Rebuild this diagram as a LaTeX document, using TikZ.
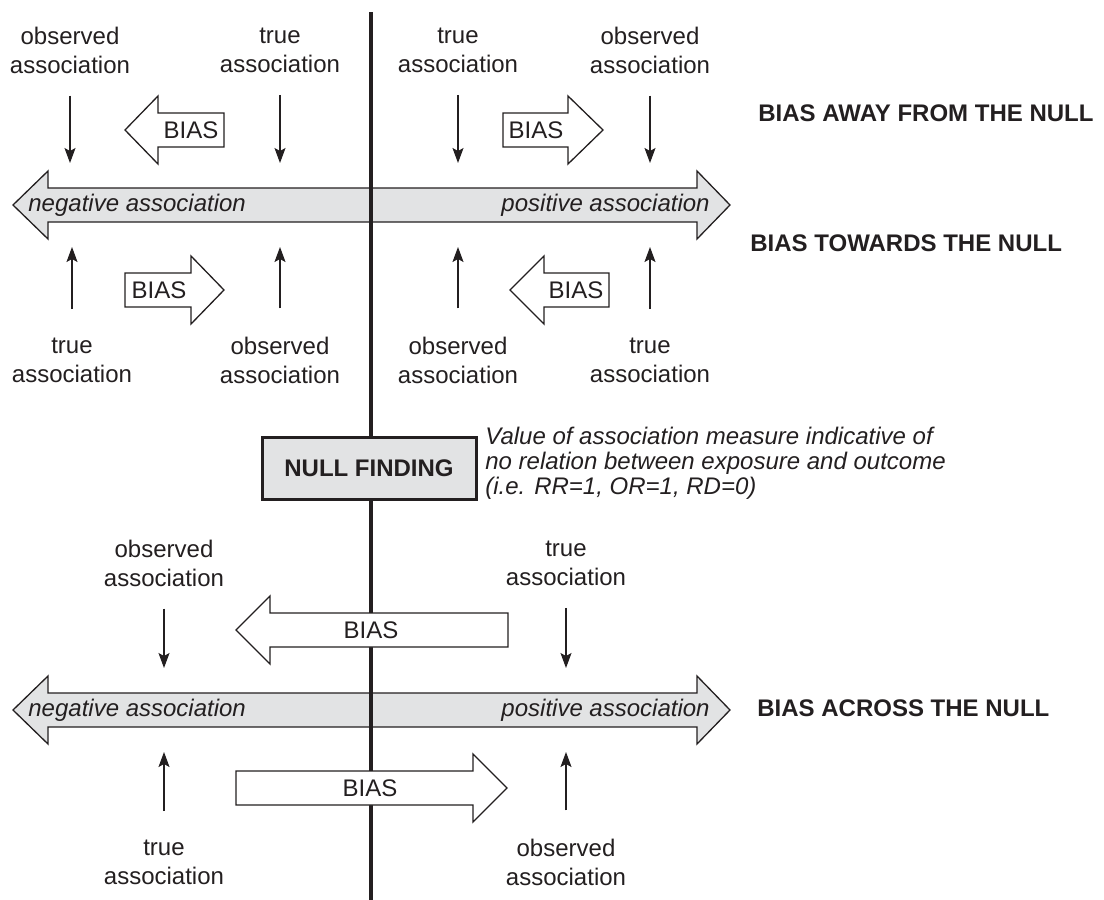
\documentclass[tikz,border=0pt]{standalone}
\usepackage{fontspec}
\setmainfont{Liberation Sans}
\usepackage{xcolor}
\usetikzlibrary{arrows.meta,positioning}
\definecolor{ink}{HTML}{231F20}
\definecolor{bandgray}{HTML}{E2E3E4}

\begin{document}
\begin{tikzpicture}[x=0.5pt,y=-0.5pt,>={Stealth[length=7.5pt,width=5.5pt,inset=1.5pt]},
   lbl/.style={align=center,inner sep=0pt,text=ink,font=\fontsize{12}{14.5}\selectfont},
   ital/.style={lbl,font=\fontsize{12}{12.5}\selectfont\itshape},
   tag/.style={inner sep=0pt,anchor=west,text=ink,font=\fontsize{12}{14}\selectfont\bfseries},
   blk/.style={draw=ink,line width=0.65pt,fill=white,line join=miter},
   scale band/.style={draw=ink,line width=0.65pt,fill=bandgray},
   downpt/.style={->,draw=ink,line width=0.6pt,shorten <=11pt,shorten >=12.5pt},
   uppt/.style={->,draw=ink,line width=0.6pt,shorten <=14pt,shorten >=12.5pt}]
  \useasboundingbox (0,0) rectangle (1104,900);

  % association scales
  \draw[scale band] (13,205) -- (48,171) -- (48,188) -- (697,188) -- (697,171) -- (730,205)
    -- (697,239) -- (697,222) -- (48,222) -- (48,239) -- cycle;
  \draw[scale band] (13,710) -- (48,676) -- (48,693) -- (697,693) -- (697,676) -- (730,710)
    -- (697,744) -- (697,727) -- (48,727) -- (48,744) -- cycle;
  \coordinate (scA-t) at (0,188);
  \coordinate (scA-b) at (0,222);
  \coordinate (scB-t) at (0,693);
  \coordinate (scB-b) at (0,727);
  \node[ital,anchor=west] (negA) at (28,205) {negative association};
  \node[ital,anchor=east] (posA) at (710,205) {positive association};
  \node[ital,anchor=west] (negB) at (28,710) {negative association};
  \node[ital,anchor=east] (posB) at (710,710) {positive association};

  % null line
  \coordinate (nullT) at (371,12);
  \coordinate (nullB) at (371,900);
  \draw[ink,line width=1.6pt] (nullT) -- (nullB);

  % away from / towards the null
  \node[lbl] (obsTL) at (70,50) {observed\\association};
  \node[lbl] (trueTL) at (280,50) {true\\association};
  \node[lbl] (trueTR) at (458,50) {true\\association};
  \node[lbl] (obsTR) at (650,50) {observed\\association};
  \draw[downpt] (obsTL.south) -- (obsTL.south |- scA-t);
  \draw[downpt] (trueTL.south) -- (trueTL.south |- scA-t);
  \draw[downpt] (trueTR.south) -- (trueTR.south |- scA-t);
  \draw[downpt] (obsTR.south) -- (obsTR.south |- scA-t);
  \draw[blk] (125,130) -- (158,96) -- (158,113) -- (224,113) -- (224,147) -- (158,147) -- (158,164) -- cycle;
  \node[lbl] (biasTL) at (191,130) {BIAS};
  \draw[blk] (503,113) -- (568,113) -- (568,96) -- (603,130) -- (568,164) -- (568,147) -- (503,147) -- cycle;
  \node[lbl] (biasTR) at (536,130) {BIAS};

  \node[lbl] (trueML) at (72,360) {true\\association};
  \node[lbl] (obsML) at (280,360) {observed\\association};
  \node[lbl] (obsMR) at (458,360) {observed\\association};
  \node[lbl] (trueMR) at (650,360) {true\\association};
  \draw[uppt] (trueML.north) -- (trueML.north |- scA-b);
  \draw[uppt] (obsML.north) -- (obsML.north |- scA-b);
  \draw[uppt] (obsMR.north) -- (obsMR.north |- scA-b);
  \draw[uppt] (trueMR.north) -- (trueMR.north |- scA-b);
  \draw[blk] (125,273) -- (191,273) -- (191,256) -- (224,290) -- (191,324) -- (191,307) -- (125,307) -- cycle;
  \node[lbl] (biasML) at (159,290) {BIAS};
  \draw[blk] (510,290) -- (544,256) -- (544,273) -- (609,273) -- (609,307) -- (544,307) -- (544,324) -- cycle;
  \node[lbl] (biasMR) at (576,290) {BIAS};

  \node[tag] (away) at (758,113) {BIAS AWAY FROM THE NULL};
  \node[tag] (towards) at (750,243) {BIAS TOWARDS THE NULL};

  % null finding
  \node[draw=ink,line width=1.5pt,fill=bandgray,minimum width=107pt,minimum height=31pt,inner sep=0pt,
    text=ink,font=\fontsize{12}{14}\selectfont\bfseries] (nullbox) at (369,468) {NULL FINDING};
  \node[ital,align=left,anchor=west] (nullnote) at (485,463)
    {Value of association measure indicative of\\no relation between exposure and outcome\\(i.e. RR=1, OR=1, RD=0)};

  % across the null
  \node[lbl] (obsXL) at (164,563) {observed\\association};
  \node[lbl] (trueXR) at (566,563) {true\\association};
  \draw[downpt] (obsXL.south) -- (obsXL.south |- scB-t);
  \draw[downpt] (trueXR.south) -- (trueXR.south |- scB-t);
  \draw[blk] (236,630) -- (270,596) -- (270,613) -- (508,613) -- (508,647) -- (270,647) -- (270,664) -- cycle;
  \node[lbl] (biasXL) at (371,630) {BIAS};

  \node[lbl] (trueXL) at (164,862) {true\\association};
  \node[lbl] (obsXR) at (566,862) {observed\\association};
  \draw[uppt] (trueXL.north) -- (trueXL.north |- scB-b);
  \draw[uppt] (obsXR.north) -- (obsXR.north |- scB-b);
  \draw[blk] (236,771) -- (473,771) -- (473,754) -- (507,788) -- (473,822) -- (473,805) -- (236,805) -- cycle;
  \node[lbl] (biasXR) at (370,788) {BIAS};

  \node[tag] (across) at (757,708) {BIAS ACROSS THE NULL};
\end{tikzpicture}
\end{document}
